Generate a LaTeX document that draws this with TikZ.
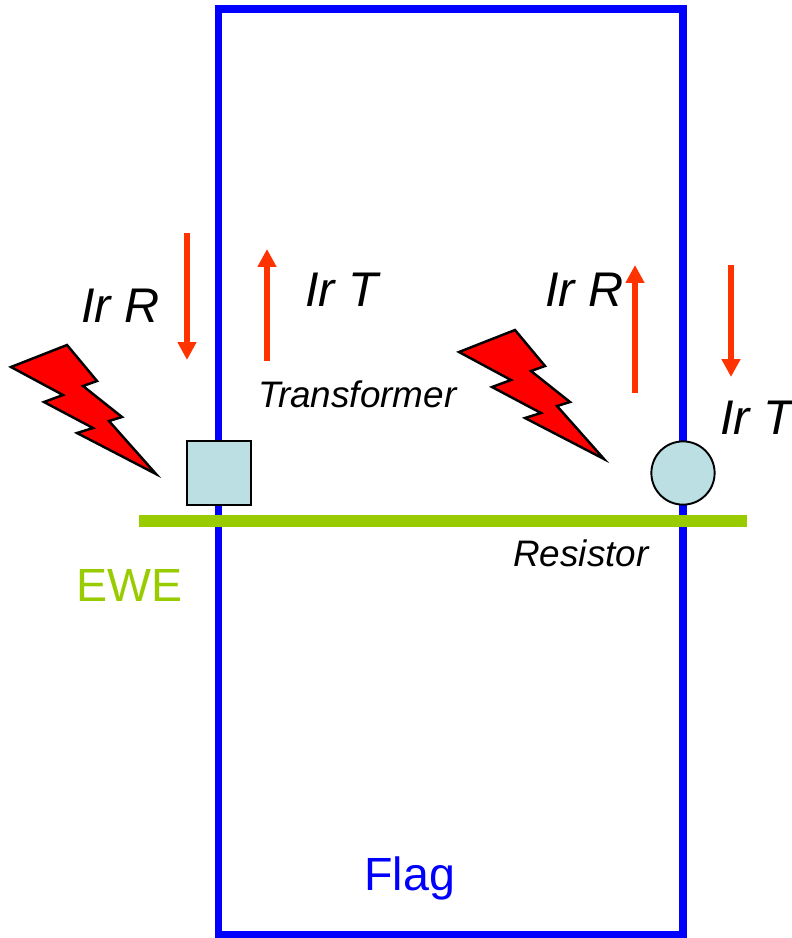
\documentclass[tikz,border=0pt]{standalone}
\usepackage{fontspec}
\setmainfont{Liberation Sans}
\usetikzlibrary{arrows.meta}
\definecolor{flagblue}{HTML}{0000FF}
\definecolor{ewegreen}{HTML}{99CC00}
\definecolor{irred}{HTML}{FF3300}
\definecolor{boxteal}{HTML}{BBDFE2}
\begin{document}
\begin{tikzpicture}[x=0.02cm,y=-0.02cm]
	\tikzstyle{big label}=[anchor=base west,inner sep=0pt,font=\fontsize{27.7}{30}\selectfont\itshape]
	\tikzstyle{small label}=[anchor=base west,inner sep=0pt,font=\fontsize{21}{24}\selectfont\itshape]
	\tikzstyle{plain label}=[anchor=base west,inner sep=0pt,font=\fontsize{26.5}{30}\selectfont]
	\tikzstyle{ir arrow}=[irred,line width=3.4pt,-{Triangle[length=10.2pt,width=10.2pt]}]
	\tikzstyle{bolt}=[fill=red,draw=black,line width=1.4pt,miter limit=10,line join=miter]
	\tikzstyle{device}=[draw=black,fill=boxteal,line width=1.1pt,inner sep=0pt]
	\useasboundingbox (0,0) rectangle (792,938);
	\draw[flagblue,line width=4.2pt] (218.5,9) rectangle (683,935);
	\draw 
	node[device,minimum size=36pt](S)at(219,473){}
	node[device,circle,minimum size=36pt](O)at(683,473){};
	\fill[ewegreen] (139,515) rectangle (747,527);
	\coordinate (A1) at (187,233);
	\coordinate (A2) at (187,360);
	\coordinate (B1) at (267,361);
	\coordinate (B2) at (267,249);
	\coordinate (C1) at (635,393);
	\coordinate (C2) at (635,265);
	\coordinate (D1) at (731,265);
	\coordinate (D2) at (731,377);
	\draw[ir arrow](A1)--(A2);
	\draw[ir arrow](B1)--(B2);
	\draw[ir arrow](C1)--(C2);
	\draw[ir arrow](D1)--(D2);
	\foreach \dx/\dy in {0/0,448/-15}{
		\draw[bolt,shift={(\dx,\dy)}] (11,367)--(67,345)--(97,381)--(83,386)--(122,417)--(109,421)--(156,474)--(77,433)--(93,428)--(44,402)--(63,395)--cycle;
	}
	\draw
	node[big label](E)at(81,322){Ir R}
	node[big label](F)at(305,306){Ir T}
	node[big label](G)at(545,306){Ir R}
	node[big label](H)at(720,434){Ir T}
	node[small label](I)at(258,407){Transformer}
	node[small label](L)at(513,566){Resistor}
	node[plain label,text=ewegreen](M)at(76,601){EWE}
	node[plain label,text=flagblue](N)at(364,890){Flag};
\end{tikzpicture}
\end{document}
